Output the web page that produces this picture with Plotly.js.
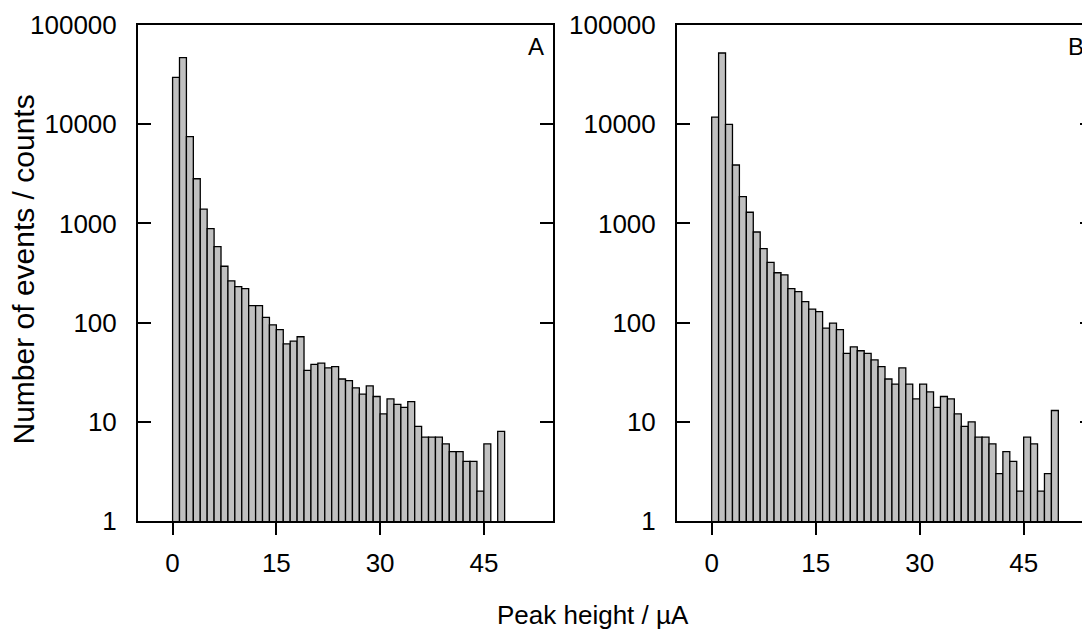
<!DOCTYPE html>
<html>
<head>
<meta charset="utf-8">
<script src="https://cdn.plot.ly/plotly-3.0.1.min.js"></script>
<style>
html, body { margin: 0; padding: 0; overflow: hidden; background: #fff; }
#chart { width: 1100px; height: 630px; }
</style>
</head>
<body>
<div id="chart"></div>
<script>
// Bin lower edges (µA), bin width 1
const binStartA = [0,1,2,3,4,5,6,7,8,9,10,11,12,13,14,15,16,17,18,19,20,21,22,23,24,25,26,27,28,29,30,31,32,33,34,35,36,37,38,39,40,41,42,43,44,45,46,47];
const countsA = [29700,46800,7480,2820,1390,885,582,370,264,230,220,148,148,113,95,85,61,65,72,33,38,39,35,36,27,26,22,19,23,18,12,17,15,14,16,9,7,7,7,6,5,5,4,4,2,6,null,8];

const binStartB = [0,1,2,3,4,5,6,7,8,9,10,11,12,13,14,15,16,17,18,19,20,21,22,23,24,25,26,27,28,29,30,31,32,33,34,35,36,37,38,39,40,41,42,43,44,45,46,47,48,49];
const countsB = [11800,52200,9980,3880,1860,1295,819,556,404,318,303,220,205,163,137,129,88,99,85,49,57,52,49,42,36,27,24,35,24,17,24,20,14,18,17,12,9,10,7,7,6,3,5,4,2,7,6,2,3,13];

const xTicks = [0, 15, 30, 45];
const yTicks = [1, 10, 100, 1000, 10000, 100000];
const yTickText = ["1", "10", "100", "1000", "10000", "100000"];
const panelLabels = ["A", "B"];
const xTitle = "Peak height / µA";
const yTitle = "Number of events / counts";

const FONT = "Arial, 'Liberation Sans', Helvetica, sans-serif";
const binWidth = 1;

function barTrace(starts, counts, xa, ya) {
  return {
    type: "bar",
    x: starts.map(s => s + binWidth / 2),
    y: counts,
    width: binWidth,
    xaxis: xa, yaxis: ya,
    marker: { color: "#c0c0c0", line: { color: "#000", width: 1.3 } },
    hoverinfo: "x+y",
    showlegend: false
  };
}

function xAxis(domain, anchor) {
  return {
    domain: domain, anchor: anchor,
    range: [-5, 55],
    tickvals: xTicks,
    ticks: "outside", ticklen: 12, tickwidth: 2, tickcolor: "#000",
    showline: true, linecolor: "#000", linewidth: 2, mirror: true,
    showgrid: false, zeroline: false,
    tickfont: { family: FONT, size: 26, color: "#000" },
    ticklabelstandoff: 6
  };
}
function yAxis(anchor) {
  return {
    domain: [0, 1], anchor: anchor,
    type: "log", range: [0, 5],
    tickvals: yTicks, ticktext: yTickText,
    ticks: "inside", ticklen: 13, tickwidth: 2, tickcolor: "#000",
    showline: true, linecolor: "#000", linewidth: 2, mirror: "ticks",
    showgrid: false, zeroline: false,
    tickfont: { family: FONT, size: 26, color: "#000" },
    ticklabelstandoff: 14
  };
}

const data = [
  barTrace(binStartA, countsA, "x", "y"),
  barTrace(binStartB, countsB, "x2", "y2")
];

const layout = {
  width: 1100, height: 630,
  margin: { l: 138, r: 7, t: 25, b: 109 },
  paper_bgcolor: "#fff", plot_bgcolor: "#fff",
  bargap: 0,
  xaxis: xAxis([0, 0.4346], "y"),
  yaxis: yAxis("x"),
  xaxis2: xAxis([0.5644, 1], "y2"),
  yaxis2: yAxis("x2"),
  annotations: [
    { text: panelLabels[0], xref: "x domain", yref: "y domain", x: 0.958, y: 0.956,
      xanchor: "center", yanchor: "middle", showarrow: false,
      font: { family: FONT, size: 24, color: "#000" } },
    { text: panelLabels[1], xref: "x2 domain", yref: "y2 domain", x: 0.958, y: 0.956,
      xanchor: "center", yanchor: "middle", showarrow: false,
      font: { family: FONT, size: 24, color: "#000" } },
    { text: xTitle, xref: "paper", yref: "paper", x: 0.3738, y: -0.19,
      xanchor: "left", yanchor: "middle", showarrow: false,
      font: { family: FONT, size: 26, color: "#000" } },
    { text: yTitle, xref: "paper", yref: "paper", x: -0.1194, y: 0.507,
      xanchor: "center", yanchor: "middle", textangle: -90, showarrow: false,
      font: { family: FONT, size: 30, color: "#000" } }
  ]
};

Plotly.newPlot("chart", data, layout, { staticPlot: true, displayModeBar: false });
</script>
</body>
</html>
